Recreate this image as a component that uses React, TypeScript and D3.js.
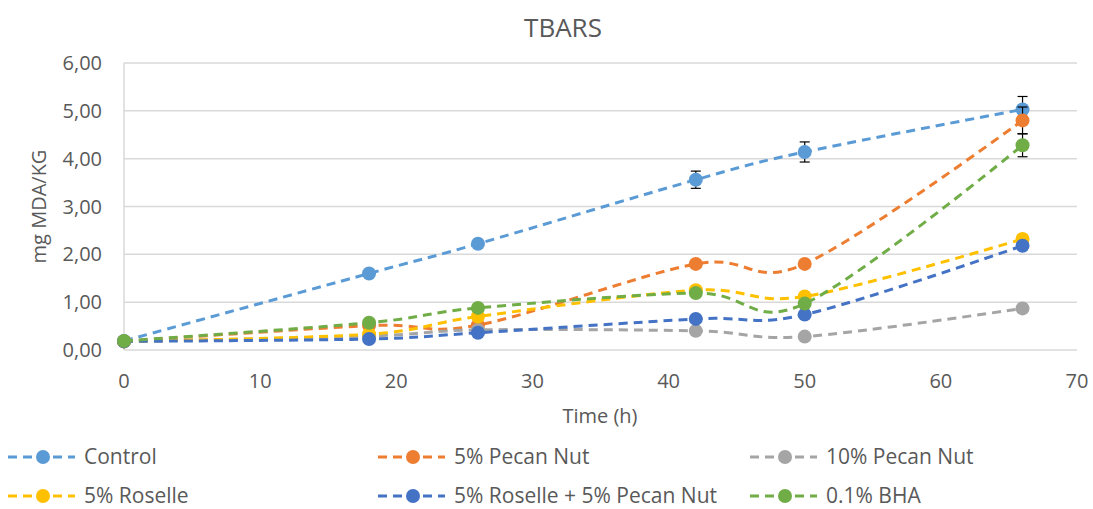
import React from "react";
import * as d3 from "d3";

const times = [0, 18, 26, 42, 50, 66];
const seriesNames = ["Control", "5% Pecan Nut", "10% Pecan Nut", "5% Roselle", "5% Roselle + 5% Pecan Nut", "0.1% BHA"];
const seriesColors = ["#5B9BD5", "#ED7D31", "#A5A5A5", "#FFC000", "#4472C4", "#70AD47"];
const control = [0.19, 1.6, 2.22, 3.56, 4.14, 5.03];
const pecan5 = [0.18, 0.51, 0.52, 1.8, 1.8, 4.8];
const pecan10 = [0.18, 0.29, 0.42, 0.4, 0.28, 0.87];
const roselle5 = [0.18, 0.33, 0.7, 1.25, 1.12, 2.32];
const roselleP = [0.18, 0.23, 0.36, 0.65, 0.74, 2.18];
const bha = [0.19, 0.57, 0.88, 1.19, 0.97, 4.28];
const controlErr = [0, 0.03, 0.08, 0.18, 0.21, 0.27];
const pecan5Err = [0, 0, 0, 0, 0, 0.28];
const pecan10Err = [0, 0, 0, 0, 0, 0];
const roselle5Err = [0, 0, 0, 0, 0, 0.08];
const rosellePErr = [0, 0, 0, 0, 0, 0];
const bhaErr = [0, 0, 0, 0, 0, 0.24];
const xTicks = [0, 10, 20, 30, 40, 50, 60, 70];
const yTicks = [0, 1, 2, 3, 4, 5, 6];

const allValues = [control, pecan5, pecan10, roselle5, roselleP, bha];
const allErr = [controlErr, pecan5Err, pecan10Err, roselle5Err, rosellePErr, bhaErr];

const FONT = "'Open Sans', Lato, sans-serif";

export default function App() {
  const W = 1093, H = 509;
  const x = d3.scaleLinear().domain([0, 70]).range([124, 1077]);
  const y = d3.scaleLinear().domain([0, 6]).range([350, 63]);
  const line = d3
    .line<[number, number]>()
    .x((d) => x(d[0]))
    .y((d) => y(d[1]))
    .curve(d3.curveCardinal.tension(0));
  const fmt = (v: number) => v.toFixed(2).replace(".", ",");

  const legendPos = [
    [8, 457], [378, 457], [750, 457],
    [8, 496], [378, 496], [750, 496],
  ];

  return (
    <svg width={W} height={H} style={{ position: "absolute", left: 0, top: 0, background: "#fff" }} fontFamily={FONT}>
      <rect width={W} height={H} fill="#fff" />
      <text x={563} y={37} textAnchor="middle" fontSize={26} fill="#595959">TBARS</text>
      {yTicks.map((t) => (
        <g key={t}>
          {t > 0 && <line x1={x(0)} x2={x(70)} y1={y(t)} y2={y(t)} stroke="#D9D9D9" strokeWidth={1.5} />}
          <text x={102} y={y(t) + 7} textAnchor="end" fontSize={20} fill="#595959">{fmt(t)}</text>
        </g>
      ))}
      <line x1={x(0)} x2={x(70)} y1={y(0)} y2={y(0)} stroke="#D9D9D9" strokeWidth={1.5} />
      <line x1={x(0)} x2={x(0)} y1={y(0)} y2={y(6)} stroke="#D9D9D9" strokeWidth={1.5} />
      {xTicks.map((t) => (
        <text key={t} x={x(t)} y={388} textAnchor="middle" fontSize={20} fill="#595959">{t}</text>
      ))}
      <text x={600} y={423} textAnchor="middle" fontSize={20} fill="#595959">Time (h)</text>
      <text transform={`translate(46,${y(3)}) rotate(-90)`} textAnchor="middle" fontSize={20} fill="#595959">mg MDA/KG</text>

      {allValues.map((vals, si) => {
        const pts = times.map((t, i) => [t, vals[i]] as [number, number]);
        return (
          <g key={si}>
            <path d={line(pts) || ""} fill="none" stroke={seriesColors[si]} strokeWidth={3} strokeDasharray="9,6" />
            {pts.map((p, i) => {
              const e = allErr[si][i];
              return (
                <g key={i}>
                  {e > 0 && (
                    <g stroke="#000" strokeWidth={1.2}>
                      <line x1={x(p[0])} x2={x(p[0])} y1={y(p[1] - e)} y2={y(p[1] + e)} />
                      <line x1={x(p[0]) - 5} x2={x(p[0]) + 5} y1={y(p[1] - e)} y2={y(p[1] - e)} />
                      <line x1={x(p[0]) - 5} x2={x(p[0]) + 5} y1={y(p[1] + e)} y2={y(p[1] + e)} />
                    </g>
                  )}
                  <circle cx={x(p[0])} cy={y(p[1])} r={7} fill={seriesColors[si]} />
                </g>
              );
            })}
          </g>
        );
      })}

      {seriesNames.map((name, i) => {
        const [lx, ly] = legendPos[i];
        return (
          <g key={name}>
            <line x1={lx} x2={lx + 67} y1={ly} y2={ly} stroke={seriesColors[i]} strokeWidth={3} strokeDasharray="9,6" />
            <circle cx={lx + 35} cy={ly} r={7} fill={seriesColors[i]} />
            <text x={lx + 76} y={ly + 7} fontSize={21} fill="#595959">{name}</text>
          </g>
        );
      })}
    </svg>
  );
}
